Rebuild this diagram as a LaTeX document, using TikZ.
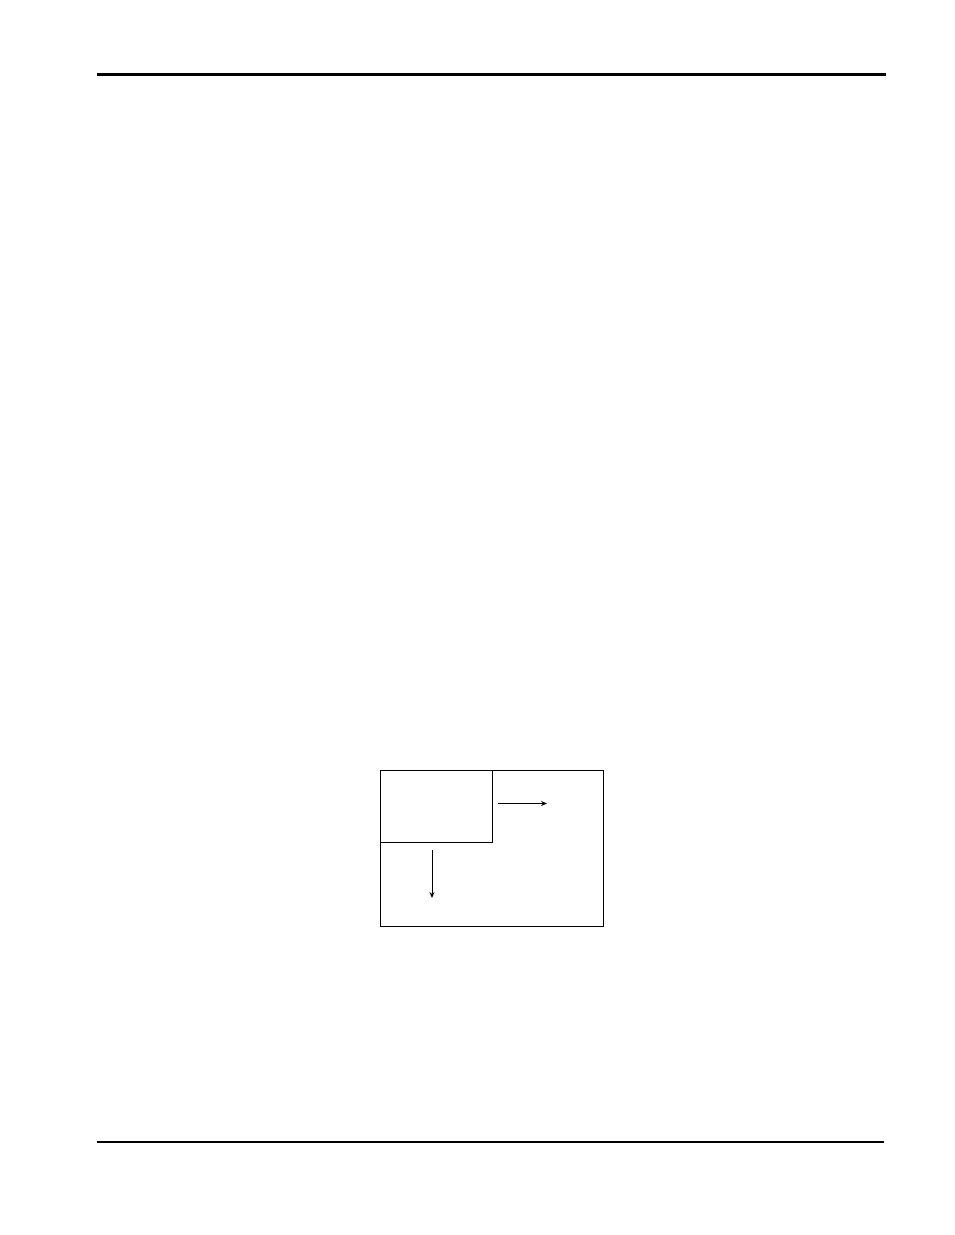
\documentclass[tikz,border=0pt]{standalone}
\usetikzlibrary{arrows.meta}
\begin{document}
\begin{tikzpicture}[x=1pt,y=-1pt,
  rule/.style={line width=2.6pt},
  box/.style={draw,line width=1pt,inner sep=0pt},
  arr/.style={line width=1pt,-{Stealth[length=6pt,width=5pt]}}]
\useasboundingbox (0,0) rectangle (954,1235);
\draw[rule] (97,74.5) coordinate (t1) -- (886,74.5) coordinate (t2);
\draw[rule] (97,1142) coordinate (b1) -- (884,1142) coordinate (b2);
\node[box,minimum width=222.5pt,minimum height=155.5pt,anchor=north west] (outer) at (380,770) {};
\node[box,minimum width=112pt,minimum height=71.5pt,anchor=north west] (inner) at (380,770) {};
\coordinate (ra) at (498,803.5);
\coordinate (rb) at (547,803.5);
\coordinate (da) at (432,850);
\coordinate (db) at (432,898);
\draw[arr] (ra) -- (rb);
\draw[arr] (da) -- (db);
\end{tikzpicture}
\end{document}
